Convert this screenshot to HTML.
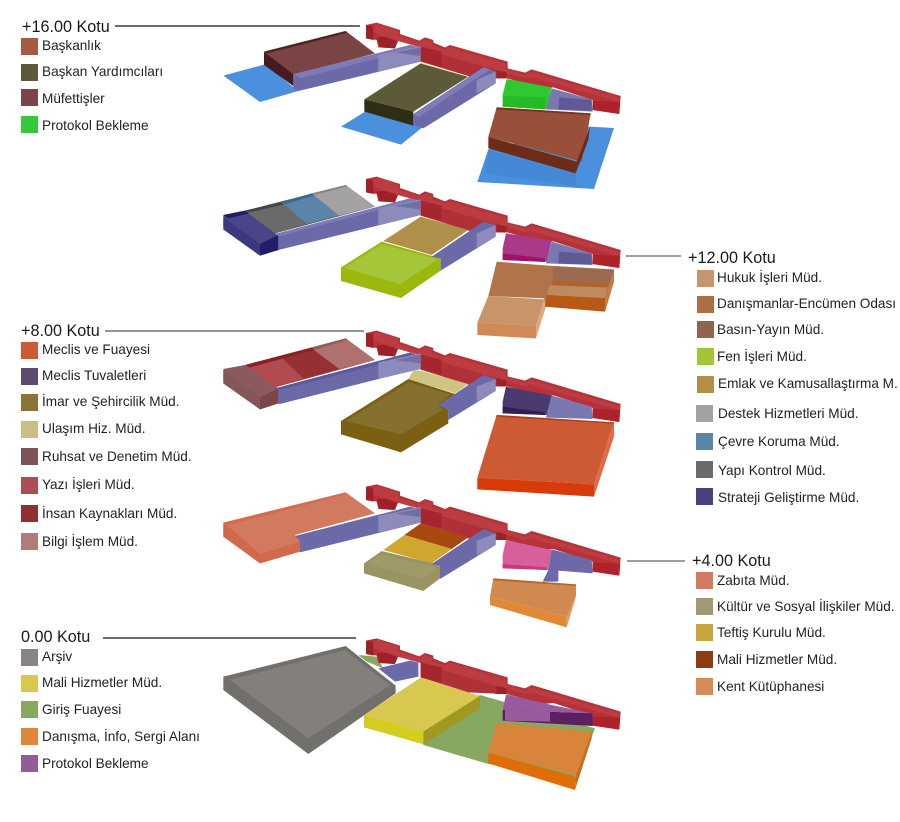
<!DOCTYPE html>
<html lang="tr"><head><meta charset="utf-8"><title>Kot planları</title>
<style>
html,body{margin:0;padding:0;background:#fff}
svg{display:block}
text{font-family:"Liberation Sans",sans-serif;fill:#222}
.h{font-size:16.2px;fill:#1a1a1a}
.l{font-size:13.6px}
.f{filter:blur(.45px)}
</style></head><body>
<svg width="900" height="822" viewBox="0 0 900 822" xmlns="http://www.w3.org/2000/svg">
<defs>
<g id="spine">
<polygon fill="#b5323a" points="468,45 500,38 570,60 570,72 628,92 645,82 670,90 670,98 705,112 720,105 893,155 893,175 945,188 965,178 1232,258 1228,312 1148,300 1148,270 1030,232 1000,235 890,205 855,205 855,180 820,172 775,200 632,155 632,110 565,92 555,115 505,112 500,90 468,85"/>
<polygon fill="#9c2129" points="468,45 490,50 490,90 468,85"/>
<polygon fill="#9c2129" points="500,82 530,80 560,92 555,115 510,112"/>
<polygon fill="#bd3c42" points="490,50 500,42 565,62 565,78 630,99 645,88 666,96 666,107 705,120 720,112 888,162 888,176 945,195 965,186 1228,264 1228,276 960,200 945,205 885,188 700,134 660,120 560,92 490,68"/>
<polygon fill="#b03037" points="700,135 885,188 885,205 775,200 700,172"/>
<polygon fill="#a5262e" points="632,110 695,125 695,170 632,155"/>
<polygon fill="#9c2129" points="860,180 890,188 888,205 860,205"/>
<polygon fill="#ad2329" points="1148,272 1230,276 1228,312 1148,300"/>
</g>
<g id="ew">
<polygon fill="#8d8bbb" points="505,135 632,108 632,155 505,185"/>
<polygon fill="#716ea4" points="555,128 632,112 632,138"/>
</g>
</defs>

<!-- Floor +16 -->
<g class="f" transform="translate(210,10) scale(.33333)">
<use href="#spine"/>
<polygon fill="#4a90dc" points="40,197 165,163 265,243 150,276"/>
<polygon fill="#4a90dc" points="393,350 465,305 640,350 573,404"/>
<polygon fill="#4a90dc" points="835,418 1140,350 1212,354 1152,537 802,516"/>
<polygon fill="#4489d6" points="835,420 1097,490 1100,528 825,490"/>
<polygon fill="#7b4444" points="162,125 407,63 495,130 250,195"/>
<polygon fill="#4f2329" points="162,125 407,63 411,69 172,130"/>
<polygon fill="#471922" points="162,125 250,193 250,228 162,165"/>
<polygon fill="#6b69a8" points="250,195 600,105 632,112 632,155 265,243 250,235"/>
<polygon fill="#7d7ab4" points="250,192 600,105 632,112 270,205"/>
<use href="#ew"/>
<polygon fill="#5c5a38" points="463,268 632,160 775,200 610,305"/>
<polygon fill="#2d2e14" points="463,268 610,305 610,347 463,305"/>
<polygon fill="#f2e6cc" points="632,155 775,198 775,201 632,160"/>
<polygon fill="#6b69a8" points="610,312 820,172 857,185 857,220 640,355 610,345"/>
<polygon fill="#7f7db6" points="610,312 820,172 840,178 625,322"/>
<polygon fill="#8d8bbb" points="800,210 857,185 857,220 800,250"/>
<polygon fill="#2fc92f" points="890,207 1025,232 1010,298 878,290 878,255"/>
<polygon fill="#26bb26" points="880,258 1010,262 1005,298 878,290"/>
<polygon fill="#7a78b0" points="1025,235 1145,268 1148,305 1008,298"/>
<polygon fill="#5e5a95" points="1047,262 1145,270 1145,302 1045,298"/>
<polygon fill="#985038" points="860,292 1142,310 1135,350 1115,455 835,380"/>
<polygon fill="#6e2c18" points="835,380 1100,455 1097,490 835,415"/>
<polygon fill="#6e2c18" points="1100,455 1140,350 1135,390 1097,490"/>
<polygon fill="#7a3218" points="860,292 1142,310 1142,315 859,298"/>
</g>

<!-- Floor +12 -->
<g class="f" transform="translate(210,170) scale(.33333)">
<use href="#spine" transform="translate(0,-18)"/>
<polygon fill="#555" points="105,122 407,45 495,110 195,190"/>
<polygon fill="#4a4588" points="40,135 105,122 205,197 205,240 150,257 40,178"/>
<polygon fill="#1f1f68" points="40,135 105,122 118,130 55,145"/>
<polygon fill="#1f1f68" points="150,222 205,195 205,240 150,257"/>
<polygon fill="#3b3880" points="40,178 40,142 150,222 150,257"/>
<polygon fill="#6a6a6a" points="105,122 215,97 290,162 195,190"/>
<polygon fill="#454545" points="105,122 215,97 222,103 116,128"/>
<polygon fill="#5b85a8" points="215,97 305,70 387,137 290,162"/>
<polygon fill="#3b6a90" points="215,97 305,70 314,77 226,102"/>
<polygon fill="#a3a1a1" points="305,70 407,45 495,110 387,137"/>
<polygon fill="#8b8888" points="305,70 407,45 412,50 316,75"/>
<polygon fill="#6b69a8" points="195,192 600,85 632,95 632,135 205,240 205,198"/>
<polygon fill="#7d7ab4" points="195,192 600,85 615,92 210,198"/>
<use href="#ew" transform="translate(0,-20)"/>
<polygon fill="#b09048" points="520,213 632,140 775,180 665,255"/>
<polygon fill="#9cb80f" points="393,292 515,215 692,265 692,302 573,384 393,333"/>
<polygon fill="#a6c63a" points="402,294 515,223 684,268 571,342"/>
<polygon fill="#6b69a8" points="665,260 820,155 857,165 857,200 692,302 692,265"/>
<polygon fill="#8d8bbb" points="800,190 857,165 857,200 800,235"/>
<polygon fill="#a83a8a" points="888,190 1025,212 1010,275 878,270 878,235"/>
<polygon fill="#a0126a" points="878,250 1005,265 1005,276 878,270"/>
<polygon fill="#7a78b0" points="1025,215 1145,250 1148,285 1008,280"/>
<polygon fill="#5e5a95" points="1047,245 1145,252 1145,284 1045,280"/>
<polygon fill="#b0744a" points="860,275 1030,288 1212,298 1212,335 1185,425 1005,410 1003,385 835,378"/>
<polygon fill="#9c6a50" points="1030,288 1212,300 1197,340 1027,330"/>
<polygon fill="#b0622a" points="1027,330 1197,340 1192,352 1027,345"/>
<polygon fill="#c08a60" points="1020,346 1192,353 1185,384 1010,375"/>
<polygon fill="#c47c48" points="1185,384 1212,300 1212,335 1185,425"/>
<polygon fill="#c8946a" points="835,378 1003,388 978,468 802,458"/>
<polygon fill="#d08a55" points="802,458 978,468 978,505 802,495"/>
<polygon fill="#e0a882" points="978,468 1003,388 1008,410 978,505"/>
<polygon fill="#b85a15" points="1010,375 1185,385 1185,425 1005,410"/>
</g>

<!-- Floor +8 -->
<g class="f" transform="translate(210,325) scale(.33333)">
<use href="#spine" transform="translate(0,-21)"/>
<polygon fill="#a03c40" points="105,120 407,40 495,105 195,187"/>
<polygon fill="#8a5a5e" points="40,132 105,120 205,190 205,235 150,253 40,175"/>
<polygon fill="#7a4448" points="150,218 205,190 205,235 150,253"/>
<polygon fill="#84565a" points="40,175 40,138 150,218 150,253"/>
<polygon fill="#b04c50" points="118,128 215,100 280,160 195,187"/>
<polygon fill="#953034" points="215,95 305,70 388,132 280,160"/>
<polygon fill="#b07070" points="305,70 407,40 495,105 388,132"/>
<polygon fill="#8d2026" points="105,120 305,68 314,75 118,128"/>
<polygon fill="#905c5c" points="305,68 407,40 412,45 316,74"/>
<polygon fill="#6b69a8" points="195,190 600,83 632,92 632,130 205,238 205,195"/>
<polygon fill="#5c5a9a" points="195,190 600,83 615,90 210,195"/>
<use href="#ew" transform="translate(0,-23)"/>
<polygon fill="#cdc581" points="610,135 632,137 775,177 735,205 595,162"/>
<polygon fill="#7a6010" points="393,288 595,162 735,207 690,240 715,255 715,295 573,382 393,328"/>
<polygon fill="#857030" points="408,288 595,172 722,208 682,240 700,253 573,328"/>
<polygon fill="#6b69a8" points="685,240 820,150 857,162 857,198 715,285 715,255"/>
<polygon fill="#8d8bbb" points="800,185 857,162 857,198 800,230"/>
<polygon fill="#4a3a70" points="888,185 1025,212 1010,270 878,265 878,230"/>
<polygon fill="#2f2058" points="878,245 1005,262 1005,270 878,265"/>
<polygon fill="#7a78b0" points="1025,212 1145,245 1148,282 1008,278"/>
<polygon fill="#cc5a35" points="860,270 1212,292 1152,478 802,458"/>
<polygon fill="#d83a08" points="802,458 1152,478 1152,515 802,493"/>
<polygon fill="#e06a45" points="1152,478 1212,292 1212,335 1152,515"/>
<polygon fill="#a8401e" points="860,270 1212,292 1212,296 859,275"/>
</g>

<!-- Floor +4 -->
<g class="f" transform="translate(210,480) scale(.33333)">
<use href="#spine" transform="translate(0,-25)"/>
<polygon fill="#d27a5f" points="40,128 407,37 495,100 255,165 270,180 270,215 150,250 40,170"/>
<polygon fill="#d2684a" points="40,170 40,128 52,138 150,222 150,250"/>
<polygon fill="#d06a4a" points="150,222 255,190 270,180 270,215 150,250"/>
<polygon fill="#d8694a" points="40,128 407,37 412,42 52,136"/>
<polygon fill="#6b69a8" points="255,168 600,80 632,88 632,128 270,217 270,182"/>
<use href="#ew" transform="translate(0,-27)"/>
<polygon fill="#a84a10" points="632,130 775,172 725,207 583,165"/>
<polygon fill="#cfa72f" points="520,210 583,165 725,207 665,250"/>
<polygon fill="#9a9462" points="462,250 515,213 690,255 690,295 640,333 462,280"/>
<polygon fill="#a09a68" points="472,250 515,224 680,262 640,298"/>
<polygon fill="#6b69a8" points="665,252 820,147 857,160 857,195 690,297 690,257"/>
<polygon fill="#8d8bbb" points="800,182 857,160 857,195 800,228"/>
<polygon fill="#d8609a" points="888,180 1025,210 1015,270 878,265 878,225"/>
<polygon fill="#c83a7a" points="878,252 1010,262 1010,270 878,265"/>
<polygon fill="#6b69a8" points="1025,208 1145,240 1148,280 1045,272 1045,305 998,305 1015,270"/>
<polygon fill="#d08a50" points="850,295 1098,313 1098,350 1070,410 840,350"/>
<polygon fill="#e08a38" points="840,350 1070,410 1070,442 840,375"/>
<polygon fill="#e09a60" points="1070,410 1098,340 1098,350 1070,442"/>
<polygon fill="#b8662a" points="850,295 1098,313 1098,318 849,301"/>
</g>

<!-- Floor 0 -->
<g class="f" transform="translate(210,630) scale(.33333)">
<polygon fill="#86a860" points="810,195 880,215 1155,295 1100,440 835,402 640,345 640,300"/>
<polygon fill="#86a860" points="445,75 500,80 520,115 470,95"/>
<use href="#spine" transform="translate(0,-13)"/>
<polygon fill="#6b69a8" points="505,115 600,92 625,98 625,140 555,155"/>
<polygon fill="#72706c" points="40,140 407,48 557,167 557,190 295,372 40,180"/>
<polygon fill="#847f7a" points="60,150 403,60 540,165 295,325"/>
<polygon fill="#d8c850" points="462,255 632,143 810,198 640,305"/>
<polygon fill="#d4cc20" points="462,255 640,305 640,343 462,292"/>
<polygon fill="#a09820" points="640,305 810,198 810,235 640,343"/>
<polygon fill="#9a5aa0" points="888,193 1025,225 1148,250 878,240"/>
<polygon fill="#5c1f60" points="878,240 1148,250 1148,288 878,272"/>
<polygon fill="#9a5aa0" points="885,240 1020,245 1020,275 885,272"/>
<polygon fill="#d8843a" points="860,278 1145,305 1100,435 835,368"/>
<polygon fill="#e06e08" points="835,368 1097,440 1095,480 835,400"/>
<polygon fill="#c27020" points="1097,440 1145,305 1145,325 1095,480"/>
</g>

<!-- Level lines -->
<g stroke-width="1.2">
<line x1="115" y1="26" x2="360" y2="26" stroke="#111"/>
<line x1="626" y1="256" x2="681" y2="256" stroke="#666"/>
<line x1="105" y1="331" x2="364" y2="331" stroke="#555"/>
<line x1="627" y1="561" x2="685" y2="561" stroke="#666"/>
<line x1="103" y1="638" x2="356" y2="638" stroke="#111"/>
</g>

<!-- Legend +16 -->
<text class="h" x="22" y="32">+16.00 Kotu</text>
<rect x="21" y="38" width="17" height="17" fill="#a55a44"/><text class="l" x="42" y="50">Başkanlık</text>
<rect x="21" y="64" width="17" height="17" fill="#5c5a3a"/><text class="l" x="42" y="76">Başkan Yardımcıları</text>
<rect x="21" y="89" width="17" height="17" fill="#7a4448"/><text class="l" x="42" y="103">Müfettişler</text>
<rect x="21" y="116" width="17" height="17" fill="#35c93a"/><text class="l" x="42" y="130">Protokol Bekleme</text>

<!-- Legend +12 -->
<text class="h" x="688" y="263">+12.00 Kotu</text>
<rect x="697" y="270" width="17" height="17" fill="#c4956e"/><text class="l" x="717" y="282">Hukuk İşleri Müd.</text>
<rect x="697" y="296" width="17" height="17" fill="#ac6e46"/><text class="l" x="717" y="308">Danışmanlar-Encümen Odası</text>
<rect x="697" y="321" width="17" height="17" fill="#8f6450"/><text class="l" x="717" y="334">Basın-Yayın Müd.</text>
<rect x="697" y="348" width="17" height="17" fill="#a3c436"/><text class="l" x="717" y="361">Fen İşleri Müd.</text>
<rect x="697" y="376" width="17" height="17" fill="#b09048"/><text class="l" x="718" y="388">Emlak ve Kamusallaştırma M.</text>
<rect x="696" y="405" width="17" height="17" fill="#a3a1a1"/><text class="l" x="718" y="418">Destek Hizmetleri Müd.</text>
<rect x="696" y="433" width="17" height="17" fill="#5b85a8"/><text class="l" x="718" y="446">Çevre Koruma Müd.</text>
<rect x="696" y="461" width="17" height="17" fill="#6a6a6a"/><text class="l" x="718" y="475">Yapı Kontrol Müd.</text>
<rect x="696" y="488" width="17" height="17" fill="#454480"/><text class="l" x="718" y="502">Strateji Geliştirme Müd.</text>

<!-- Legend +8 -->
<text class="h" x="21" y="336">+8.00 Kotu</text>
<rect x="21" y="342" width="17" height="17" fill="#cc5a35"/><text class="l" x="42" y="354">Meclis ve Fuayesi</text>
<rect x="21" y="368" width="17" height="17" fill="#5c4a70"/><text class="l" x="42" y="380">Meclis Tuvaletleri</text>
<rect x="21" y="394" width="17" height="17" fill="#8a7438"/><text class="l" x="42" y="406">İmar ve Şehircilik Müd.</text>
<rect x="21" y="421" width="17" height="17" fill="#c8bf86"/><text class="l" x="42" y="433">Ulaşım Hiz. Müd.</text>
<rect x="21" y="448" width="17" height="17" fill="#7f5458"/><text class="l" x="42" y="461">Ruhsat ve Denetim Müd.</text>
<rect x="21" y="477" width="17" height="17" fill="#ad4c52"/><text class="l" x="42" y="489">Yazı İşleri Müd.</text>
<rect x="21" y="505" width="17" height="17" fill="#8e3034"/><text class="l" x="42" y="518">İnsan Kaynakları Müd.</text>
<rect x="21" y="533" width="17" height="17" fill="#b07c7c"/><text class="l" x="42" y="546">Bilgi İşlem Müd.</text>

<!-- Legend +4 -->
<text class="h" x="692" y="566">+4.00 Kotu</text>
<rect x="696" y="572" width="17" height="17" fill="#d27a62"/><text class="l" x="717" y="585">Zabıta Müd.</text>
<rect x="696" y="598" width="17" height="17" fill="#a09a72"/><text class="l" x="717" y="611">Kültür ve Sosyal İlişkiler Müd.</text>
<rect x="696" y="624" width="17" height="17" fill="#c8a53a"/><text class="l" x="717" y="637">Teftiş Kurulu Müd.</text>
<rect x="696" y="651" width="17" height="17" fill="#8f3d10"/><text class="l" x="717" y="664">Mali Hizmetler Müd.</text>
<rect x="696" y="678" width="17" height="17" fill="#d58a58"/><text class="l" x="717" y="691">Kent Kütüphanesi</text>

<!-- Legend 0 -->
<text class="h" x="21" y="642">0.00 Kotu</text>
<rect x="21" y="649" width="17" height="17" fill="#8a8583"/><text class="l" x="42" y="661">Arşiv</text>
<rect x="21" y="675" width="17" height="17" fill="#d8c850"/><text class="l" x="42" y="687">Mali Hizmetler Müd.</text>
<rect x="21" y="701" width="17" height="17" fill="#86a860"/><text class="l" x="42" y="714">Giriş Fuayesi</text>
<rect x="21" y="728" width="17" height="17" fill="#e0863a"/><text class="l" x="42" y="741">Danışma, İnfo, Sergi Alanı</text>
<rect x="21" y="755" width="17" height="17" fill="#965a98"/><text class="l" x="42" y="768">Protokol Bekleme</text>
</svg>
</body></html>
